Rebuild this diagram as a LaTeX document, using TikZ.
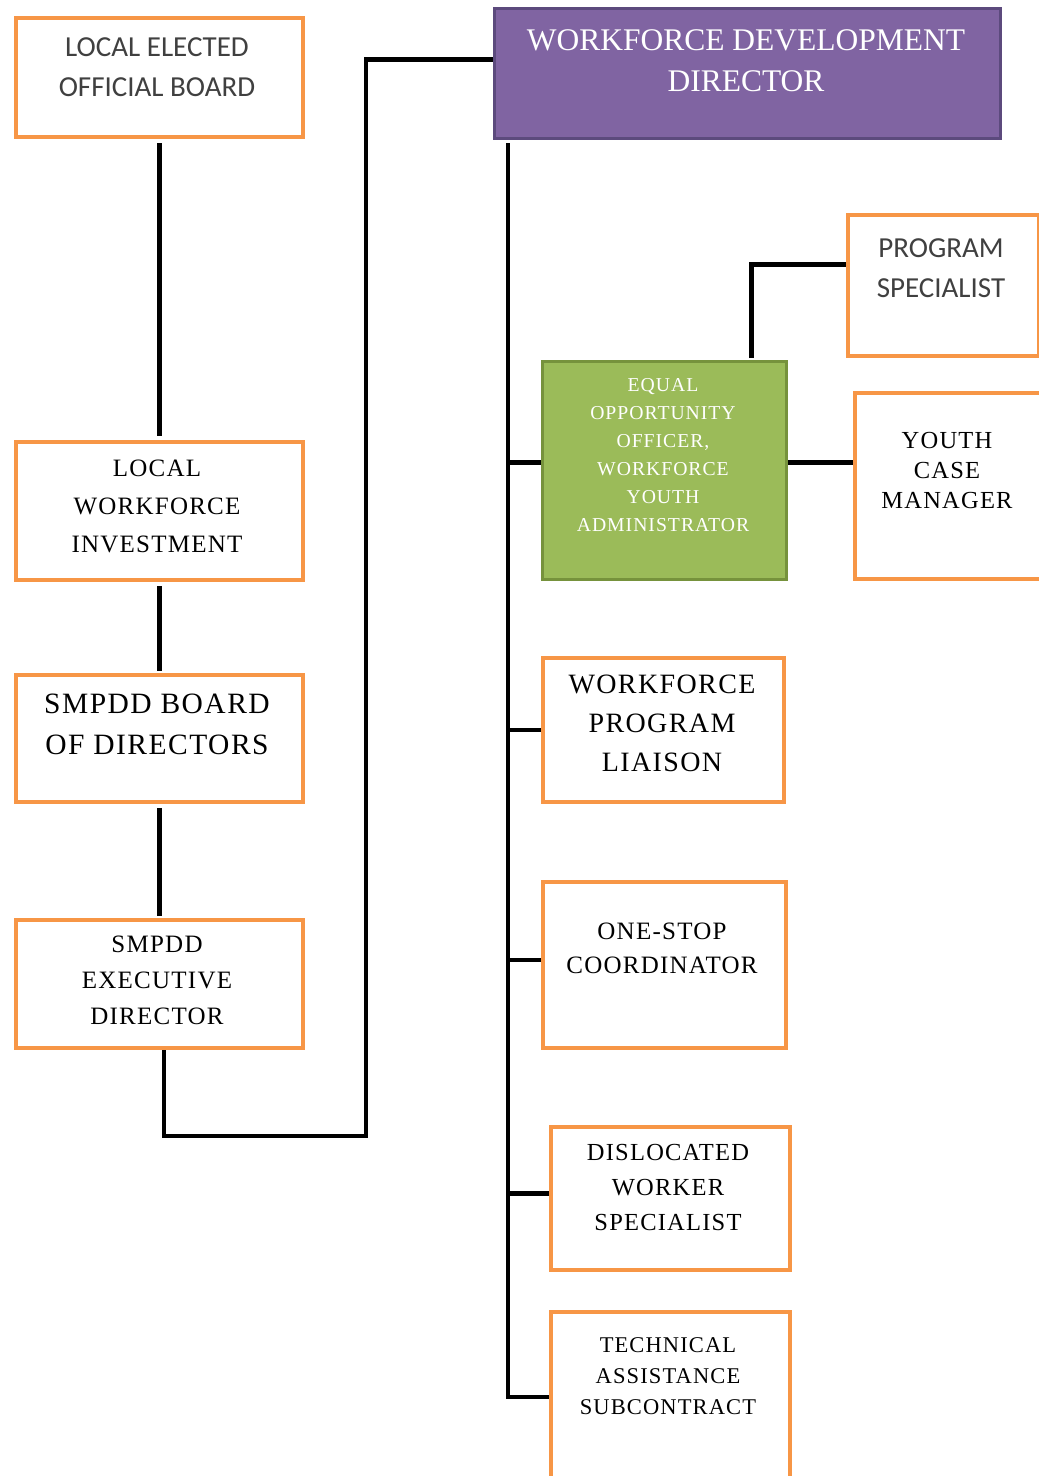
\documentclass[tikz,border=0pt]{standalone}
\usepackage{fontspec}
\setmainfont{Liberation Serif}
\newfontfamily\sansf{Carlito}
\newfontfamily\spsf[LetterSpace=5]{Liberation Serif}
\definecolor{boxorange}{HTML}{F79646}
\definecolor{wddpurple}{HTML}{8064A2}
\definecolor{wddborder}{HTML}{5C4A7D}
\definecolor{eeogreen}{HTML}{9BBB59}
\definecolor{eeoborder}{HTML}{76923C}
\definecolor{darktext}{HTML}{404040}
\begin{document}
\begin{tikzpicture}[x=1pt,y=-1pt,
  obox/.style={draw=boxorange, line width=4pt, fill=white, inner sep=0pt, anchor=north west, rectangle},
  pbox/.style={draw=wddborder, line width=3pt, fill=wddpurple, inner sep=0pt, anchor=north west, rectangle},
  gbox/.style={draw=eeoborder, line width=3pt, fill=eeogreen, inner sep=0pt, anchor=north west, rectangle},
  lbl/.style={align=center, inner sep=0pt, text=black},
  conn/.style={draw=black, line width=4.5pt}
]
\useasboundingbox (0,0) rectangle (1039,1476);

% left column boxes
\node[obox, minimum width=287pt, minimum height=119pt] (leob) at (14,16) {};
\node[obox, minimum width=287pt, minimum height=138pt] (lwi) at (14,440) {};
\node[obox, minimum width=287pt, minimum height=127pt] (smb) at (14,673) {};
\node[obox, minimum width=287pt, minimum height=128pt] (exd) at (14,918) {};

% top director
\node[pbox, minimum width=506pt, minimum height=130pt] (wdd) at (493,7) {};

% right side boxes
\node[obox, minimum width=191pt, minimum height=141pt] (ps) at (846,213) {};
\node[gbox, minimum width=244pt, minimum height=218pt] (eeo) at (541,360) {};
\node[obox, minimum width=190pt, minimum height=186pt] (ycm) at (853,391) {};
\node[obox, minimum width=241pt, minimum height=144pt] (wpl) at (541,656) {};
\node[obox, minimum width=243pt, minimum height=166pt] (osc) at (541,880) {};
\node[obox, minimum width=239pt, minimum height=143pt] (dws) at (549,1125) {};
\node[obox, minimum width=239pt, minimum height=170pt] (tac) at (549,1310) {};

% texts
\node[lbl, text=darktext, font=\sansf\fontsize{29}{40}\selectfont] (leobT) at (157,67) {LOCAL ELECTED\\OFFICIAL BOARD};
\node[lbl, text=white, font=\fontsize{31.5}{41}\selectfont] (wddT) at (746,60.5) {WORKFORCE DEVELOPMENT\\DIRECTOR};
\node[lbl, text=darktext, font=\sansf\fontsize{29}{40}\selectfont] (psT) at (941,268) {PROGRAM\\SPECIALIST};
\node[lbl, text=white, font=\spsf\fontsize{19.7}{28}\selectfont] (eeoT) at (663,455) {EQUAL\\OPPORTUNITY\\OFFICER,\\WORKFORCE\\YOUTH\\ADMINISTRATOR};
\node[lbl, font=\spsf\fontsize{24.5}{30}\selectfont] (ycmT) at (947,470) {YOUTH\\CASE\\MANAGER};
\node[lbl, font=\spsf\fontsize{25}{38}\selectfont] (lwiT) at (157,506.5) {LOCAL\\WORKFORCE\\INVESTMENT};
\node[lbl, font=\spsf\fontsize{29.5}{41}\selectfont] (smbT) at (157,724.5) {SMPDD BOARD\\OF DIRECTORS};
\node[lbl, font=\spsf\fontsize{25}{36}\selectfont] (exdT) at (157,980.5) {SMPDD\\EXECUTIVE\\DIRECTOR};
\node[lbl, font=\spsf\fontsize{28}{39}\selectfont] (wplT) at (662,723) {WORKFORCE\\PROGRAM\\LIAISON};
\node[lbl, font=\spsf\fontsize{25}{34}\selectfont] (oscT) at (662,948) {ONE-STOP\\COORDINATOR};
\node[lbl, font=\spsf\fontsize{24.5}{35}\selectfont] (dwsT) at (668,1187) {DISLOCATED\\WORKER\\SPECIALIST};
\node[lbl, font=\spsf\fontsize{22.5}{31}\selectfont] (tacT) at (668,1376) {TECHNICAL\\ASSISTANCE\\SUBCONTRACT};

% connectors, left chain
\draw[conn] ([yshift=-4pt]leob.south) -- ([yshift=4pt]lwi.north);
\draw[conn] ([yshift=-4pt]lwi.south) -- ([yshift=2pt]smb.north);
\draw[conn] ([yshift=-4pt]smb.south) -- ([yshift=2pt]exd.north);

% executive director to workforce development director
\coordinate (k1) at (366,1136);
\draw[conn] ([xshift=4.5pt]exd.south) |- (k1) |- ([yshift=14pt]wdd.west);

% trunk
\coordinate (trk) at (508,137);
\draw[conn] ([xshift=15pt,yshift=-3pt]wdd.south west) |- (tac.west);
\draw[conn] ([yshift=8pt]eeo.west) -- ([yshift=8pt]eeo.west -| trk);
\draw[conn] (wpl.west) -- (wpl.west -| trk);
\draw[conn] ([yshift=5pt]osc.west) -- ([yshift=5pt]osc.west -| trk);
\draw[conn] ([yshift=5pt]dws.west) -- ([yshift=5pt]dws.west -| trk);

% EEO branches
\draw[conn] ([xshift=87pt,yshift=2pt]eeo.north) |- ([yshift=21pt]ps.west);
\draw[conn] ([yshift=8pt]eeo.east) -- ([yshift=8pt]eeo.east -| ycm.west);
\end{tikzpicture}
\end{document}
